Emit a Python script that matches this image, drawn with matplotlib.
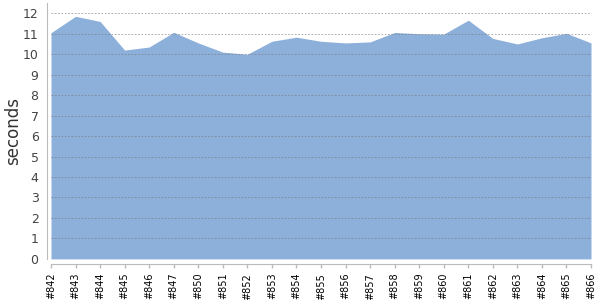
import matplotlib
matplotlib.use("Agg")
import matplotlib.pyplot as plt

builds = ["#842", "#843", "#844", "#845", "#846", "#847", "#850", "#851", "#852",
          "#853", "#854", "#855", "#856", "#857", "#858", "#859", "#860", "#861",
          "#862", "#863", "#864", "#865", "#866"]
seconds = [11.05, 11.85, 11.6, 10.2, 10.35, 11.07, 10.55, 10.1, 10.0,
           10.63, 10.83, 10.63, 10.55, 10.6, 11.06, 11.0, 10.98, 11.66,
           10.77, 10.5, 10.8, 11.02, 10.55]
yticks = list(range(0, 13))

fig = plt.figure(figsize=(6, 3), dpi=100)
ax = fig.add_axes([0.085, 0.137, 0.9, 0.853])
x = list(range(len(builds)))
ax.fill_between(x, 0, seconds, color="#8DB0DA", linewidth=0, zorder=1)
ax.set_xlim(0, len(builds) - 1)
ax.set_ylim(0, 12.5)
ax.set_yticks(yticks)
ax.set_yticklabels([str(t) for t in yticks])
ax.set_xticks(x)
ax.set_xticklabels(builds)
ax.tick_params(axis="y", length=0, pad=6, labelsize=9, labelcolor="#444444")
ax.tick_params(axis="x", length=3, color="#bbbbbb", width=1, pad=3,
               labelsize=7, labelcolor="black", labelrotation=90)
ax.yaxis.grid(True, linestyle=(0, (2, 2)), color="#777777", linewidth=0.6, alpha=0.7, zorder=2)
ax.set_axisbelow(False)
for s in ["top", "right"]:
    ax.spines[s].set_visible(False)
ax.spines["left"].set_position(("outward", 3))
ax.spines["bottom"].set_position(("outward", 4))
ax.spines["left"].set_color("#bbbbbb")
ax.spines["bottom"].set_color("#bbbbbb")
ax.set_ylabel("seconds", fontsize=12, color="#333333")
ax.yaxis.set_label_coords(-0.054, 0.5)
fig.savefig("out.png", dpi=100)
